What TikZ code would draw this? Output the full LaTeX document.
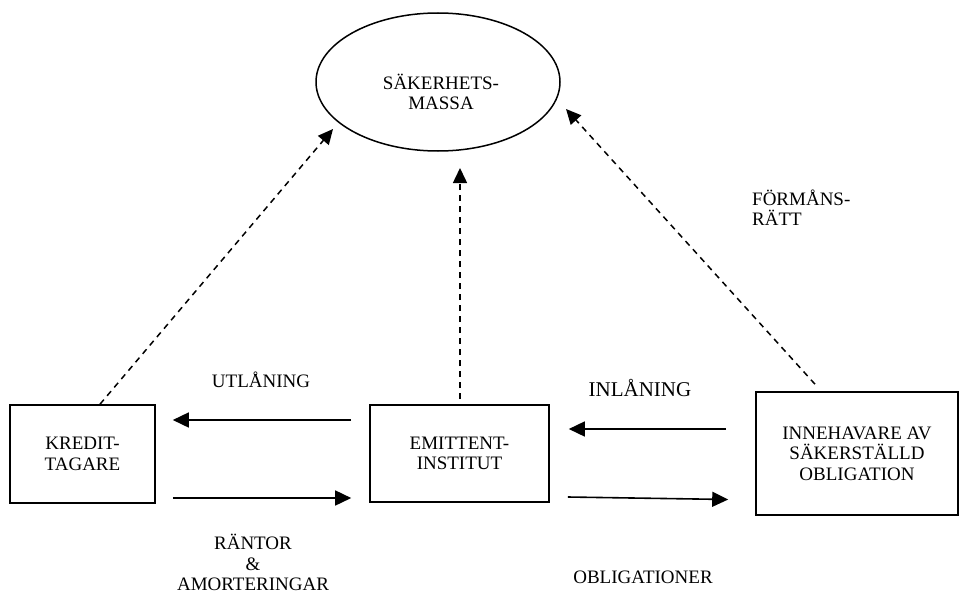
\documentclass[tikz,border=0pt]{standalone}
\usepackage{fontspec}
\setmainfont{Liberation Serif}
\usetikzlibrary{shapes.geometric,arrows.meta}
\begin{document}
\begin{tikzpicture}[x=1pt,y=-1pt,
  txt/.style={font=\fontsize{19}{20.5}\selectfont,align=center,inner sep=0pt},
  box/.style={draw,line width=1.6pt,inner sep=0pt,font=\fontsize{19}{20.5}\selectfont,align=center},
  arr/.style={line width=1.6pt,-{Triangle[length=16pt,width=15pt]}},
  darr/.style={line width=1.5pt,dash pattern=on 6pt off 5pt,-{Triangle[length=15pt,width=14pt]}}]
\useasboundingbox (0,0) rectangle (960,594);
\node[ellipse,draw,line width=1.5pt,minimum width=244pt,minimum height=138pt,inner sep=0pt] (massa) at (438,82) {};
\node[txt] (mtxt) at (441,92) {SÄKERHETS-\\MASSA};
\node[box,minimum width=145pt,minimum height=98pt] (kred) at (82.5,454) {KREDIT-\\TAGARE};
\node[box,minimum width=179pt,minimum height=97pt] (emit) at (459.5,453.5) {EMITTENT-\\INSTITUT};
\node[box,minimum width=202pt,minimum height=123pt] (inne) at (857,453.5) {INNEHAVARE AV\\SÄKERSTÄLLD\\OBLIGATION};
% solid arrows
\draw[arr] ([xshift=-18pt]emit.west |- 0,420) -- ([xshift=17pt]kred.east |- 0,420);
\draw[arr] ([xshift=17pt]kred.east |- 0,498) -- ([xshift=-18pt]emit.west |- 0,498);
\draw[arr] ([xshift=-29pt]inne.west |- 0,429) -- ([xshift=19pt]emit.east |- 0,429);
\draw[arr] ([xshift=18pt]emit.east |- 0,497) -- ([xshift=-27pt]inne.west |- 0,499.5);
% dashed arrows
\coordinate (t1) at (333,129);
\coordinate (t2) at (460,168);
\coordinate (t3) at (566,109);
\draw[darr] (kred.north -| 100,0) -- (t1);
\draw[darr] ([yshift=5pt]emit.north -| 460,0) -- (t2);
\draw[darr] ([yshift=7pt]inne.north -| 815,0) -- (t3);
% labels
\node[txt] (lutl) at (261,380) {UTLÅNING};
\node[txt,font=\fontsize{21}{24}\selectfont] (linl) at (640,388) {INLÅNING};
\node[txt] (lran) at (253,562.5) {RÄNTOR\\\&\\AMORTERINGAR};
\node[txt] (lobl) at (643,577) {OBLIGATIONER};
\node[txt,align=left,anchor=west] (lfor) at (752,207.5) {FÖRMÅNS-\\RÄTT};
\end{tikzpicture}
\end{document}
